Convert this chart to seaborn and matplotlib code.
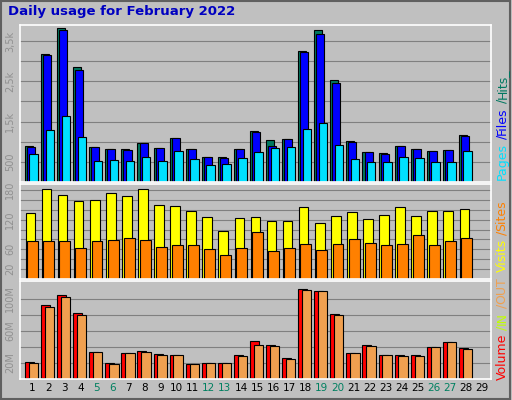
import matplotlib
matplotlib.use("Agg")
import matplotlib.pyplot as plt
import seaborn as sns
import numpy as np
from matplotlib.patches import Rectangle

days = list(range(1, 30))
weekend = [5, 6, 12, 13, 19, 20, 26, 27]
hits = [892, 3192, 3817, 2867, 867, 817, 817, 967, 842, 1092, 817, 617, 617, 817,
        1267, 1042, 1067, 3242, 3767, 2542, 1017, 742, 717, 892, 817, 767, 792, 1167]
files = [867, 3167, 3767, 2792, 867, 817, 792, 967, 842, 1092, 817, 617, 592, 817,
         1242, 892, 1067, 3217, 3667, 2467, 992, 742, 692, 892, 817, 767, 792, 1142]
pages = [692, 1292, 1642, 1117, 517, 542, 517, 617, 517, 767, 567, 417, 442, 592,
         742, 842, 867, 1317, 1467, 917, 567, 492, 492, 617, 592, 492, 492, 767]
visits = [134, 181, 169, 158, 160, 173, 167, 181, 150, 148, 138, 126, 97, 124,
          126, 117, 117, 146, 113, 128, 136, 122, 130, 146, 128, 138, 138, 142]
sites = [76, 76, 76, 62, 76, 79, 83, 79, 64, 68, 68, 60, 48, 62,
         95, 56, 62, 70, 58, 70, 81, 72, 68, 70, 89, 68, 76, 83]
volume = [21, 92.5, 105, 82.5, 34, 20, 32.5, 35, 31, 30, 19, 20, 20, 30,
          47.5, 42.5, 26, 112.5, 110, 81, 32.5, 42.5, 30, 30, 30, 40, 46, 39]
vol_in = [0.8, 0.8, 0.8, 0.8, 0.3, 0.3, 0.3, 0.3, 0.3, 0.3, 0.3, 0.3, 0.3, 0.3,
          1.5, 0.3, 0.3, 0.8, 0.8, 0.8, 0.3, 0.3, 0.3, 0.3, 0.3, 0.3, 0.3, 0.8]
vol_out = [20, 90, 102.5, 80, 34, 19, 32.5, 34, 30, 30, 19, 20, 20, 29,
           42.5, 41, 25, 111, 109, 80, 32.5, 41, 30, 29, 29, 40, 46, 37.5]

sns.set_style("white")
BG = "#C0C0C0"
fig = plt.figure(figsize=(5.12, 4.0), dpi=100, facecolor=BG)
fig.patches.append(Rectangle((0.002, 0.003), 0.994, 0.994, transform=fig.transFigure,
                             fill=False, edgecolor="#606060", lw=1.5))

W, H = 512, 400
def mk(top, bot):
    ax = fig.add_axes([20 / W, 1 - bot / H, 471 / W, (bot - top) / H], facecolor=BG)
    ax.set_xlim(0.25, 29.56)
    for s in ax.spines.values():
        s.set_color("white")
        s.set_linewidth(1.2)
    ax.tick_params(length=0, labelsize=7, labelcolor="#909090")
    ax.set_xticks([])
    return ax

x = np.array(days[:28])
def bars(ax, vals, off, w, color):
    ax.bar(x + off, vals, width=w, align="edge", color=color, edgecolor="black", lw=0.8)

ax1 = mk(25, 182)
ax1.set_ylim(0, 3900)
for g in range(500, 4000, 500):
    ax1.axhline(g, color="#808080", lw=0.8, zorder=0)
bars(ax1, hits, -0.44, 0.5, "#007860")
bars(ax1, files, -0.31, 0.5, "#0000FF")
bars(ax1, pages, -0.16, 0.53, "#00E0FF")
ax1.set_yticks([500, 1500, 2500, 3500], ["500", "1,5k", "2,5k", "3,5k"], rotation=90, va="center")

ax2 = mk(184, 279)
ax2.set_ylim(0, 192)
for g in range(20, 200, 20):
    ax2.axhline(g, color="#808080", lw=0.8, zorder=0)
bars(ax2, visits, -0.4, 0.6, "#FFFF00")
bars(ax2, sites, -0.3, 0.68, "#FF8000")
ax2.set_yticks([20, 60, 120, 180], ["20", "60", "120", "180"], rotation=90, va="center")

ax3 = mk(281, 379)
ax3.set_ylim(0, 122)
for g in range(20, 120, 20):
    ax3.axhline(g, color="#808080", lw=0.8, zorder=0)
bars(ax3, volume, -0.44, 0.56, "#FF0000")
bars(ax3, vol_in, -0.38, 0.15, "#C0FF00")
bars(ax3, vol_out, -0.2, 0.58, "#F0A050")
ax3.set_yticks([20, 60, 100], ["20M", "60M", "100M"], rotation=90, va="center")

for d in days:
    px = (20 + (d - 0.25) / 29.31 * 471) / W
    fig.text(px, 1 - 388 / H, str(d), ha="center", va="center", fontsize=7.5,
             color="#008060" if d in weekend else "black")

fig.text(8 / W, 1 - 11 / H, "Daily usage for February 2022", color="#0000C0",
         fontsize=9.5, fontweight="bold", va="center")

def side(parts, ybot):
    y = ybot
    for txt, col in parts:
        t = fig.text(502 / W, y / H, txt, rotation=90, color=col, fontsize=9,
                     ha="center", va="bottom")
        fig.canvas.draw()
        bb = t.get_window_extent()
        y += bb.height
side([("Pages", "#00E0FF"), (" /", "#0000FF"), ("Files", "#0000FF"), (" /", "#007860"), ("Hits_", "#007860")], 400 - 180)
side([("Visits", "#FFFF00"), (" /", "#FF8000"), ("Sites", "#FF8000")], 400 - 272)
side([("Volume", "#FF0000"), (" /", "#C0FF00"), ("IN", "#C0FF00"), (" /", "#F0A050"), ("OUT", "#F0A050")], 400 - 380)

fig.savefig("out.png", dpi=100, facecolor=BG)
